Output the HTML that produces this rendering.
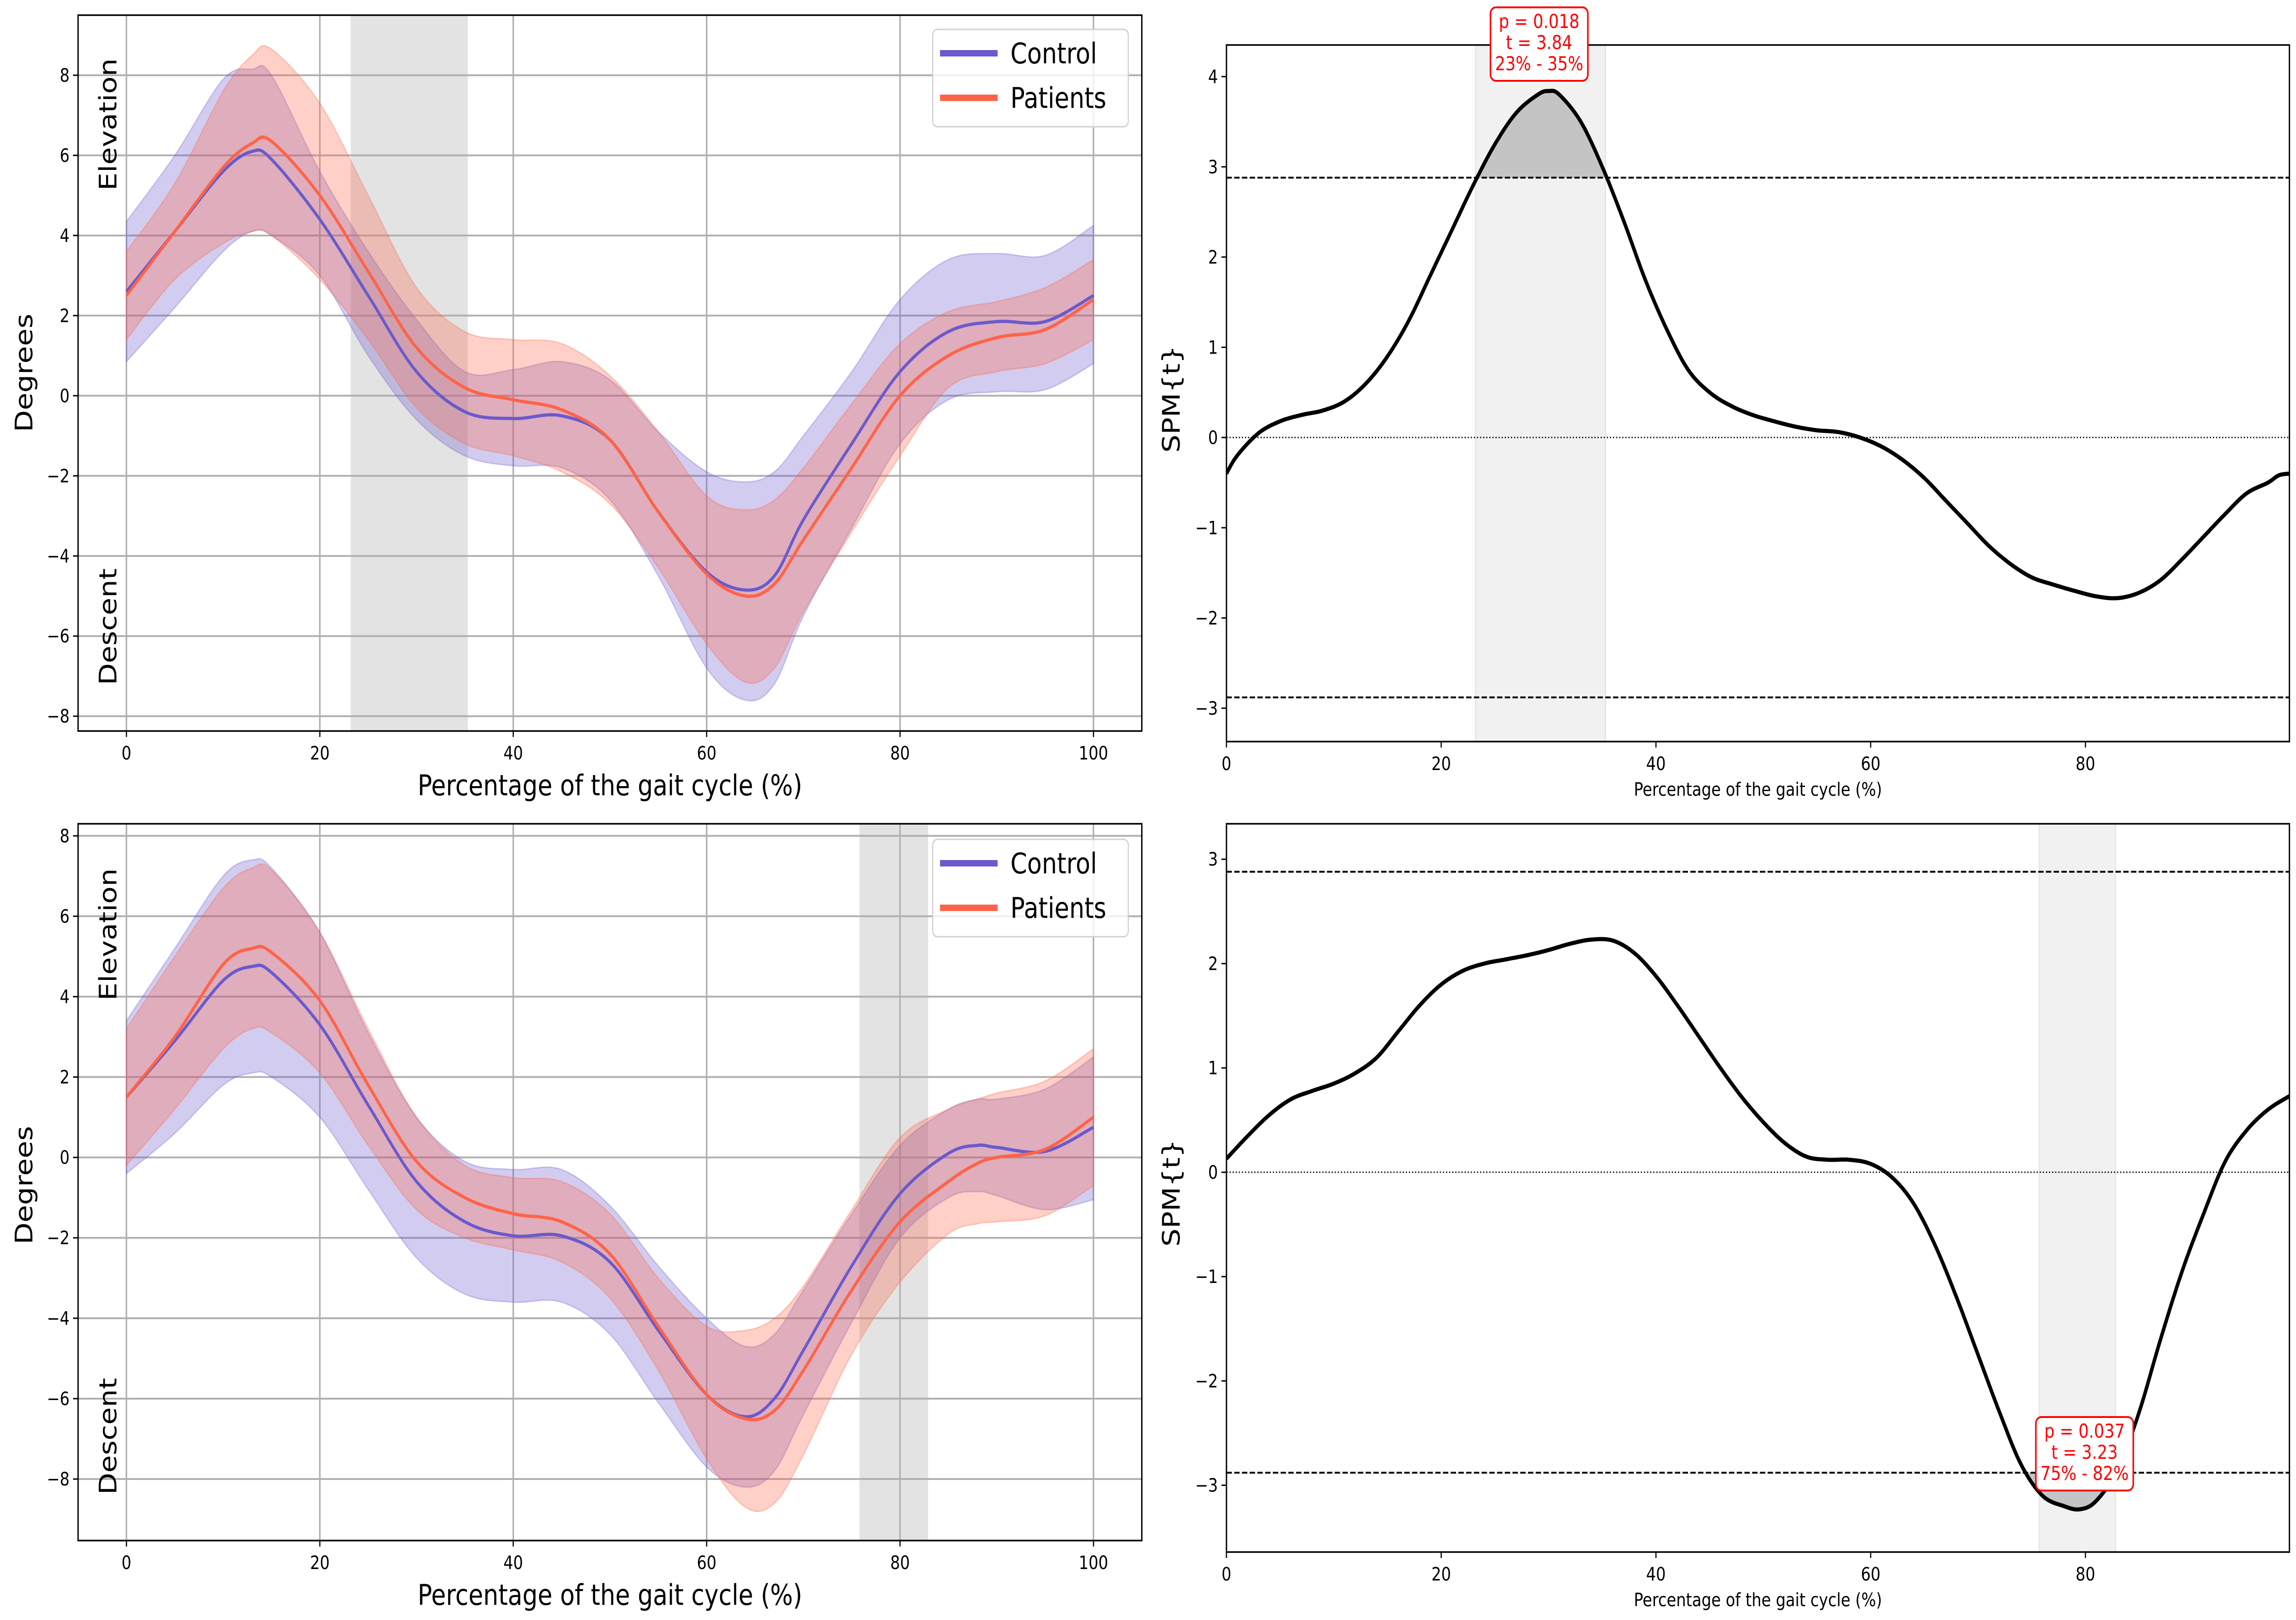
<!DOCTYPE html>
<html><head><meta charset="utf-8">
<style>
html,body{margin:0;padding:0;background:#fff;width:100%;height:100%;overflow:hidden;}
svg{display:block;width:100vw;height:100vh;font-family:"DejaVu Sans","Liberation Sans",sans-serif;}
</style></head><body>
<svg id="fig" viewBox="0 0 5940 3528" preserveAspectRatio="none" xmlns="http://www.w3.org/2000/svg">
<rect width="5940" height="3528" fill="#fff"/>
</svg>
<script>
// ---------- DATA ----------
const xTL = [0,5,10,13,15,20,25,30,35,40,45,50,55,60,64,67,70,75,80,85,90,95,100];
const ctrlMeanTL = [2.6,4.1,5.6,6.1,5.9,4.4,2.5,0.6,-0.4,-0.57,-0.5,-1.1,-2.9,-4.4,-4.85,-4.5,-3.1,-1.2,0.6,1.6,1.85,1.85,2.5];
const ctrlUpTL   = [4.35,6.0,7.9,8.15,8.0,5.6,3.6,1.9,0.6,0.65,0.85,0.4,-0.9,-1.9,-2.15,-1.9,-1.0,0.6,2.4,3.4,3.55,3.5,4.25];
const ctrlLoTL   = [0.85,2.2,3.6,4.1,4.0,3.0,1.0,-0.6,-1.5,-1.75,-1.8,-2.6,-4.5,-6.8,-7.6,-7.2,-5.5,-3.3,-1.2,-0.1,0.1,0.15,0.8];
const patMeanTL  = [2.5,4.1,5.7,6.3,6.35,5.0,3.1,1.2,0.2,-0.1,-0.35,-1.1,-2.9,-4.45,-5.0,-4.7,-3.6,-1.8,0.0,1.0,1.45,1.65,2.4];
const patUpTL    = [3.6,5.3,7.6,8.5,8.65,7.3,5.0,2.7,1.6,1.4,1.3,0.5,-0.9,-2.5,-2.85,-2.6,-1.8,-0.2,1.3,2.1,2.35,2.7,3.4];
const patLoTL    = [1.4,2.9,3.8,4.1,4.0,2.9,1.4,-0.3,-1.2,-1.5,-1.9,-2.7,-4.3,-6.2,-7.15,-6.8,-5.4,-3.4,-1.5,0.2,0.6,0.8,1.4];
const sigTL = [23.2,35.3];

const xBL = [0,5,10,13,15,20,25,30,35,40,45,50,55,60,64,67,70,75,80,85,88,90,95,100];
const ctrlMeanBL = [1.5,2.9,4.4,4.75,4.6,3.3,1.3,-0.6,-1.6,-1.95,-1.95,-2.6,-4.3,-5.9,-6.45,-6.0,-4.8,-2.7,-0.9,0.1,0.3,0.25,0.15,0.75];
const ctrlUpBL   = [3.4,5.2,7.0,7.4,7.2,5.6,3.1,1.0,-0.1,-0.3,-0.3,-1.2,-2.7,-4.0,-4.7,-4.4,-3.3,-1.4,0.3,1.2,1.45,1.45,1.7,2.5];
const ctrlLoBL   = [-0.4,0.6,1.8,2.1,2.0,1.0,-0.8,-2.5,-3.4,-3.6,-3.6,-4.4,-6.1,-7.7,-8.2,-7.8,-6.4,-4.1,-2.0,-1.0,-0.85,-0.95,-1.3,-1.05];
const patMeanBL  = [1.5,3.0,4.8,5.2,5.1,3.9,1.8,-0.1,-1.0,-1.4,-1.6,-2.4,-4.2,-5.9,-6.5,-6.3,-5.3,-3.3,-1.6,-0.6,-0.15,0.0,0.2,1.0];
const patUpBL    = [3.2,5.0,6.7,7.2,7.15,5.6,3.2,1.0,-0.2,-0.5,-0.6,-1.4,-3.0,-4.2,-4.3,-4.0,-3.2,-1.3,0.5,1.2,1.45,1.6,1.9,2.7];
const patLoBL    = [-0.2,1.2,2.7,3.2,3.1,2.1,0.3,-1.3,-2.0,-2.3,-2.6,-3.5,-5.3,-7.5,-8.7,-8.6,-7.4,-4.9,-3.1,-1.9,-1.65,-1.6,-1.45,-0.7];
const sigBL = [75.8,82.9];

const xTR = [0,1,3,5,7,9,11,13,15,17,19,21,23,25,27,29,30,31,33,35,37,39,41,43,45,47,49,51,53,55,57,59,61,63,65,67,69,71,73,75,77,79,81,83,85,87,89,91,93,95,97,98,99];
const spmTR = [-0.4,-0.2,0.05,0.18,0.25,0.3,0.4,0.6,0.9,1.3,1.8,2.3,2.8,3.25,3.6,3.8,3.84,3.8,3.5,3.0,2.4,1.75,1.2,0.75,0.5,0.35,0.25,0.18,0.12,0.08,0.06,0.0,-0.1,-0.25,-0.45,-0.7,-0.95,-1.2,-1.4,-1.55,-1.63,-1.7,-1.76,-1.78,-1.72,-1.58,-1.35,-1.1,-0.85,-0.62,-0.5,-0.42,-0.4];
const threshTR = 2.88;
const clusterTR = [23.2,35.3];
const annTR = ["p = 0.018","t = 3.84","23% - 35%"];

const xBR = [0,2,4,6,8,10,12,14,16,18,20,22,24,26,28,30,32,34,36,38,40,42,44,46,48,50,52,54,56,58,60,62,64,66,68,70,72,74,76,78,79.5,81,83,85,87,89,91,93,95,97,99];
const spmBR = [0.13,0.35,0.55,0.7,0.78,0.85,0.95,1.1,1.35,1.6,1.8,1.93,2.0,2.04,2.08,2.13,2.19,2.23,2.22,2.1,1.88,1.6,1.3,1.0,0.72,0.48,0.28,0.15,0.12,0.12,0.08,-0.05,-0.3,-0.7,-1.2,-1.75,-2.3,-2.8,-3.1,-3.2,-3.23,-3.15,-2.85,-2.3,-1.6,-0.95,-0.4,0.1,0.4,0.6,0.73];
const threshBR = 2.88;
const clusterBR = [75.7,82.8];
const annBR = ["p = 0.037","t = 3.23","75% - 82%"];

const degTicks = [-8,-6,-4,-2,0,2,4,6,8];
const pctTicksL = [0,20,40,60,80,100];
const pctTicksR = [0,20,40,60,80];
const spmTicksTR = [-3,-2,-1,0,1,2,3,4];
const spmTicksBR = [-3,-2,-1,0,1,2,3];

// ---------- HELPERS ----------
const NS="http://www.w3.org/2000/svg";
const svg=document.getElementById('fig');
function mk(tag,attrs,parent){const e=document.createElementNS(NS,tag);for(const k in attrs)e.setAttribute(k,attrs[k]);(parent||svg).appendChild(e);return e;}
function lin(d0,d1,r0,r1){return v=>r0+(v-d0)*(r1-r0)/(d1-d0);}
function smoothPts(xs,ys,sx,sy){
  const p=xs.map((x,i)=>[sx(x),sy(ys[i])]);const out=[];
  for(let i=0;i<p.length-1;i++){
    const p0=p[Math.max(i-1,0)],p1=p[i],p2=p[i+1],p3=p[Math.min(i+2,p.length-1)];
    for(let k=0;k<10;k++){
      const t=k/10,t2=t*t,t3=t2*t;
      const f=(a,b,c,d)=>0.5*((2*b)+(-a+c)*t+(2*a-5*b+4*c-d)*t2+(-a+3*b-3*c+d)*t3);
      out.push([f(p0[0],p1[0],p2[0],p3[0]),f(p0[1],p1[1],p2[1],p3[1])]);
    }
  }
  out.push(p[p.length-1]);return out;
}
function ptsToD(pts){return pts.map((q,i)=>(i?'L':'M')+q[0].toFixed(1)+','+q[1].toFixed(1)).join('');}
function fmt(v){return v<0?'\u2212'+(-v):String(v);}

// ---------- GAIT PANEL ----------
function gaitPanel(o){
  const g=mk('g',{});
  
  
  const sx=lin(-5,105,o.L,o.R), sy=lin(o.y0,o.y1,o.B,o.T);
  const cp=mk('clipPath',{id:o.name+'-clip'},g);mk('rect',{x:o.L,y:o.T,width:o.R-o.L,height:o.B-o.T},cp);
  const sr=mk('rect',{x:sx(o.sig[0]),y:o.T,width:sx(o.sig[1])-sx(o.sig[0]),height:o.B-o.T,fill:'#808080','fill-opacity':0.22},g);
  
  
  o.yt.forEach(v=>{const l=mk('line',{x1:o.L,x2:o.R,y1:sy(v),y2:sy(v),stroke:'#b0b0b0','stroke-width':4},g);
    
    });
  pctTicksL.forEach(v=>{const l=mk('line',{x1:sx(v),x2:sx(v),y1:o.T,y2:o.B,stroke:'#b0b0b0','stroke-width':4},g);
    
    });
  const cg=mk('g',{'clip-path':'url(#'+o.name+'-clip)'},g);
  [[o.cu,o.cl,'#6a5acd','control-band'],[o.pu,o.pl,'#ff6347','patients-band']].forEach(b=>{
    const up=smoothPts(o.x,b[0],sx,sy),lo=smoothPts(o.x,b[1],sx,sy).reverse();
    const p=mk('path',{d:ptsToD(up.concat(lo))+'Z',fill:b[2],'fill-opacity':0.3,stroke:b[2],'stroke-opacity':0.3,'stroke-width':3},cg);
    
    
  });
  [[o.cm,'#6a5acd','control-mean-line'],[o.pm,'#ff6347','patients-mean-line']].forEach(b=>{
    const p=mk('path',{d:ptsToD(smoothPts(o.x,b[0],sx,sy)),fill:'none',stroke:b[1],'stroke-width':7},cg);
    
    
  });
  const sp=mk('rect',{x:o.L,y:o.T,width:o.R-o.L,height:o.B-o.T,fill:'none',stroke:'#000','stroke-width':3.5},g);
  
  
  o.yt.forEach(v=>{mk('line',{x1:o.L-13,x2:o.L,y1:sy(v),y2:sy(v),stroke:'#000','stroke-width':3},g);
    const t=mk('text',{x:o.L-22,y:sy(v)+14,'font-size':40,'text-anchor':'end'},g);t.textContent=fmt(v);
    
    });
  pctTicksL.forEach(v=>{mk('line',{x1:sx(v),x2:sx(v),y1:o.B,y2:o.B+13,stroke:'#000','stroke-width':3},g);
    const t=mk('text',{x:sx(v),y:o.B+62,'font-size':40,'text-anchor':'middle'},g);t.textContent=fmt(v);
    
    });
  const xl=mk('text',{x:(o.L+o.R)/2,y:o.B+140,'font-size':62,'text-anchor':'middle'},g);xl.textContent='Percentage of the gait cycle (%)';
  
  
  const yl=mk('text',{x:0,y:0,'font-size':62,'text-anchor':'middle',transform:`translate(84,${o.degY}) rotate(-90)`},g);yl.textContent='Degrees';
  
  
  const el=mk('text',{x:0,y:0,'font-size':62,'text-anchor':'middle',transform:`translate(301,${o.elY}) rotate(-90)`},g);el.textContent='Elevation';
  
  
  const de=mk('text',{x:0,y:0,'font-size':62,'text-anchor':'middle',transform:`translate(301,${o.deY}) rotate(-90)`},g);de.textContent='Descent';
  
  
  const lg=mk('g',{},g);
  
  
  mk('rect',{x:2413,y:o.legT,width:506,height:212,rx:12,fill:'#fff','fill-opacity':0.8,stroke:'#d0d0d0','stroke-width':3},lg);
  [['Control','#6a5acd',o.legT+52],['Patients','#ff6347',o.legT+149]].forEach(e=>{
    const eg=mk('g',{},lg);
    
    
    mk('line',{x1:2432,x2:2581,y1:e[2],y2:e[2],stroke:e[1],'stroke-width':14},eg);
    const t=mk('text',{x:2614,y:e[2]+22,'font-size':62},eg);t.textContent=e[0];
  });
}

// ---------- SPM PANEL ----------
function spmPanel(o){
  const g=mk('g',{});
  
  
  const sx=lin(0,99,o.L,o.R), sy=lin(o.y0,o.y1,o.B,o.T);
  const cp=mk('clipPath',{id:o.name+'-clip'},g);mk('rect',{x:o.L,y:o.T,width:o.R-o.L,height:o.B-o.T},cp);
  const cr=mk('rect',{x:sx(o.cl[0]),y:o.T,width:sx(o.cl[1])-sx(o.cl[0]),height:o.B-o.T,fill:'#f1f1f1',stroke:'#e4e4e4','stroke-width':3},g);
  
  
  const cg=mk('g',{'clip-path':'url(#'+o.name+'-clip)'},g);
  const pts=smoothPts(o.x,o.y,sx,sy);
  const th=o.th, sign=o.sign;
  const tY=sy(sign*th);
  const fillPts=pts.filter(q=>sign>0?q[1]<=tY:q[1]>=tY);
  if(fillPts.length){
    const d=ptsToD([[fillPts[0][0],tY]].concat(fillPts,[[fillPts[fillPts.length-1][0],tY]]))+'Z';
    const f=mk('path',{d:d,fill:'#c4c4c4'},cg);
    
    
  }
  [th,-th].forEach(v=>{const l=mk('line',{x1:o.L,x2:o.R,y1:sy(v),y2:sy(v),stroke:'#000','stroke-width':4,'stroke-dasharray':'14,6'},cg);
    
    });
  const z=mk('line',{x1:o.L,x2:o.R,y1:sy(0),y2:sy(0),stroke:'#000','stroke-width':3,'stroke-dasharray':'3,5'},cg);
  
  
  const ln=mk('path',{d:ptsToD(pts),fill:'none',stroke:'#000','stroke-width':9,'stroke-linejoin':'round'},cg);
  
  
  const sp=mk('rect',{x:o.L,y:o.T,width:o.R-o.L,height:o.B-o.T,fill:'none',stroke:'#000','stroke-width':3.5},g);
  
  
  o.yt.forEach(v=>{mk('line',{x1:o.L-13,x2:o.L,y1:sy(v),y2:sy(v),stroke:'#000','stroke-width':3},g);
    const t=mk('text',{x:o.L-22,y:sy(v)+14,'font-size':40,'text-anchor':'end'},g);t.textContent=fmt(v);
    
    });
  pctTicksR.forEach(v=>{mk('line',{x1:sx(v),x2:sx(v),y1:o.B,y2:o.B+13,stroke:'#000','stroke-width':3},g);
    const t=mk('text',{x:sx(v),y:o.B+62,'font-size':40,'text-anchor':'middle'},g);t.textContent=fmt(v);
    
    });
  const xl=mk('text',{x:4548,y:o.B+118,'font-size':40,'text-anchor':'middle'},g);xl.textContent='Percentage of the gait cycle (%)';
  
  
  const yl=mk('text',{x:0,y:0,'font-size':62,'text-anchor':'middle',transform:`translate(3052,${o.labY}) rotate(-90)`},g);yl.textContent='SPM{t}';
  
  
  const ag=mk('g',{},g);
  
  
  mk('rect',{x:o.ann.x,y:o.ann.y,width:252,height:160,rx:14,fill:'#fff',stroke:'#ff0000','stroke-width':4},ag);
  o.ann.lines.forEach((s,i)=>{const t=mk('text',{x:o.ann.x+126,y:o.ann.y+45+i*46,'font-size':42,'text-anchor':'middle',fill:'#ff0000'},ag);t.textContent=s;});
}

gaitPanel({name:'top-left-gait-plot',L:202,R:2954,T:33,B:1592,y0:-8.37,y1:9.5,yt:degTicks,
  x:xTL,cm:ctrlMeanTL,cu:ctrlUpTL,cl:ctrlLoTL,pm:patMeanTL,pu:patUpTL,pl:patLoTL,sig:sigTL,
  degY:812,elY:271,deY:1365,legT:64});
gaitPanel({name:'bottom-left-gait-plot',L:202,R:2954,T:1794,B:3355,y0:-9.53,y1:8.30,yt:degTicks,
  x:xBL,cm:ctrlMeanBL,cu:ctrlUpBL,cl:ctrlLoBL,pm:patMeanBL,pu:patUpBL,pl:patLoBL,sig:sigBL,
  degY:2581,elY:2035,deY:3128,legT:1828});
spmPanel({name:'top-right-spm-plot',L:3173,R:5923,T:98,B:1615,y0:-3.37,y1:4.35,yt:spmTicksTR,
  x:xTR,y:spmTR,th:threshTR,sign:1,cl:clusterTR,labY:869,ann:{x:3856,y:16,lines:annTR}});
spmPanel({name:'bottom-right-spm-plot',L:3173,R:5923,T:1794,B:3380,y0:-3.64,y1:3.34,yt:spmTicksBR,
  x:xBR,y:spmBR,th:threshBR,sign:-1,cl:clusterBR,labY:2598,ann:{x:5267,y:3086,lines:annBR}});
</script>
</body></html>
